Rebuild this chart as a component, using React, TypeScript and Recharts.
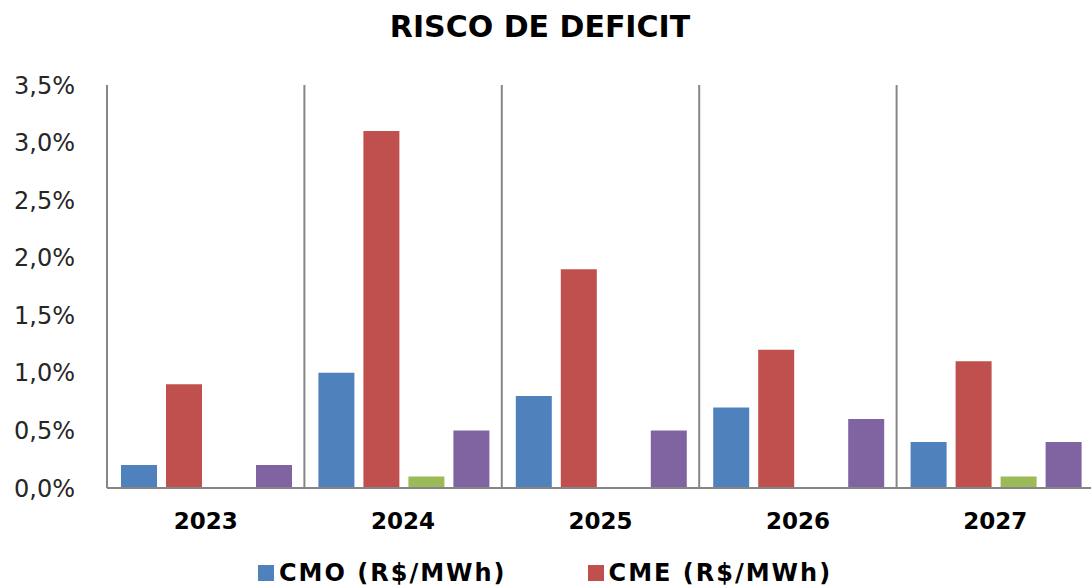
import React from "react"
import {
  BarChart,
  Bar,
  XAxis,
  YAxis,
  CartesianGrid,
} from "recharts"

// anos e valores (%)
const years = ["2023", "2024", "2025", "2026", "2027"]
const cmo = [0.2, 1.0, 0.8, 0.7, 0.4]
const cme = [0.9, 3.1, 1.9, 1.2, 1.1]
const serie3 = [0, 0.1, 0, 0, 0.1]
const serie4 = [0.2, 0.5, 0.5, 0.6, 0.4]
const yTicks = [0, 0.5, 1, 1.5, 2, 2.5, 3, 3.5]

const legendItems = [
  { name: "CMO (R$/MWh)", color: "#4F81BD" },
  { name: "CME (R$/MWh)", color: "#C0504D" },
]

const data = years.map((year, i) => ({
  year,
  cmo: cmo[i],
  cme: cme[i],
  serie3: serie3[i],
  serie4: serie4[i],
}))

const axisColor = "#868686"
const font = "'DejaVu Sans', sans-serif"

const formatPct = (v: number) => `${v.toFixed(1).replace(".", ",")}%`

export default function App() {
  return (
    <div
      style={{
        position: "absolute",
        left: 0,
        top: 0,
        width: 1091,
        height: 587,
        overflow: "hidden",
        background: "#fff",
        fontFamily: font,
      }}
    >
      <div
        style={{
          position: "absolute",
          top: 9,
          left: 0,
          width: 1080,
          textAlign: "center",
          fontSize: 30,
          fontWeight: "bold",
          color: "#000",
        }}
      >
        RISCO DE DEFICIT
      </div>

      <BarChart
        width={1100}
        height={587}
        data={data}
        margin={{ top: 85, right: 6, bottom: 0, left: 0 }}
        barCategoryGap={14}
        barGap={9}
      >
        <CartesianGrid
          horizontal={false}
          stroke={axisColor}
          strokeWidth={2}
          verticalCoordinatesGenerator={({ offset }: any) =>
            [1, 2, 3, 4].map((i) => offset.left + (i * offset.width) / years.length)
          }
        />
        <XAxis
          dataKey="year"
          height={99}
          axisLine={{ stroke: axisColor, strokeWidth: 2 }}
          tickLine={false}
          tickSize={0}
          tickMargin={25}
          interval={0}
          tick={{ fontSize: 23, fontWeight: "bold", fill: "#000", fontFamily: font }}
        />
        <YAxis
          width={107}
          domain={[0, 3.5]}
          ticks={yTicks}
          interval={0}
          axisLine={{ stroke: axisColor, strokeWidth: 2 }}
          tickLine={false}
          tickSize={0}
          tickMargin={32}
          tickFormatter={formatPct}
          tick={{ fontSize: 24, fill: "#262626", fontFamily: font }}
        />
        <Bar dataKey="cmo" name="CMO (R$/MWh)" fill="#4F81BD" isAnimationActive={false} />
        <Bar dataKey="cme" name="CME (R$/MWh)" fill="#C0504D" isAnimationActive={false} />
        <Bar dataKey="serie3" name="Série 3" fill="#9BBB59" isAnimationActive={false} />
        <Bar dataKey="serie4" name="Série 4" fill="#8064A2" isAnimationActive={false} />
      </BarChart>

      {/* legenda: só os dois primeiros itens aparecem no recorte */}
      <div
        style={{
          position: "absolute",
          top: 561,
          left: 258,
          display: "flex",
          alignItems: "center",
          fontSize: 24,
          lineHeight: "24px",
          fontWeight: "bold",
          letterSpacing: 2,
          color: "#000",
          whiteSpace: "nowrap",
        }}
      >
        {legendItems.map((item, index) => (
          <div
            key={index}
            style={{ display: "flex", alignItems: "center", marginRight: index === 0 ? 81 : 0 }}
          >
            <div style={{ width: 16, height: 16, background: item.color, marginRight: 5 }} />
            <span>{item.name}</span>
          </div>
        ))}
      </div>
    </div>
  )
}
